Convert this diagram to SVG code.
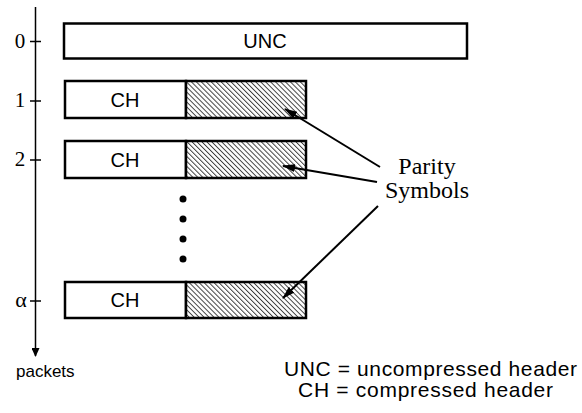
<svg xmlns="http://www.w3.org/2000/svg" width="582" height="413" viewBox="0 0 582 413">
  <style>
    .box { fill: #fff; stroke: #000; stroke-width: 2.5; }
    .hatch { fill: url(#diag); stroke: #000; stroke-width: 2.5; }
    .sans { font-family: "Liberation Sans", Arial, sans-serif; fill: #000; }
    .serif { font-family: "Liberation Serif", "Times New Roman", serif; fill: #000; }
    .line { stroke: #000; stroke-width: 2; fill: none; }
    .axis { stroke: #000; stroke-width: 1.5; fill: none; }
  </style>
  <defs>
    <pattern id="diag" patternUnits="userSpaceOnUse" width="3.5" height="3.5" patternTransform="rotate(-45)">
      <rect width="3.5" height="3.5" fill="#fff"/>
      <line x1="0" y1="0" x2="0" y2="3.5" stroke="#3a3a3a" stroke-width="1.9"/>
    </pattern>
    <marker id="arrow" markerWidth="13" markerHeight="8" refX="12" refY="4" orient="auto" markerUnits="userSpaceOnUse">
      <path d="M0,0 L13,4 L0,8 Z" fill="#000"/>
    </marker>
    <marker id="axisArrow" markerWidth="9" markerHeight="8" refX="8" refY="4" orient="auto" markerUnits="userSpaceOnUse">
      <path d="M0,0 L9,4 L0,8 Z" fill="#000"/>
    </marker>
  </defs>

  <!-- packet axis -->
  <g id="axis">
    <line class="axis" x1="35.5" y1="7" x2="35.5" y2="356" marker-end="url(#axisArrow)"/>
    <line class="axis" x1="30" y1="41.5" x2="41" y2="41.5"/>
    <line class="axis" x1="30" y1="101" x2="41" y2="101"/>
    <line class="axis" x1="30" y1="160" x2="41" y2="160"/>
    <line class="axis" x1="30" y1="301" x2="41" y2="301"/>
    <text class="serif" x="20" y="47.5" font-size="21" text-anchor="middle">0</text>
    <text class="serif" x="20" y="107" font-size="21" text-anchor="middle">1</text>
    <text class="serif" x="20" y="166" font-size="21" text-anchor="middle">2</text>
    <text class="serif" x="21" y="307" font-size="22" text-anchor="middle">α</text>
    <text class="sans" x="16" y="377" font-size="17">packets</text>
  </g>

  <!-- packet 0: uncompressed -->
  <g id="pkt0">
    <rect class="box" x="64" y="23.5" width="403" height="35"/>
    <text class="sans" x="265" y="48" font-size="20" text-anchor="middle">UNC</text>
  </g>

  <!-- packet 1 -->
  <g id="pkt1">
    <rect class="box" x="65" y="81" width="121" height="37"/>
    <rect class="hatch" x="186" y="81" width="120" height="37"/>
    <text class="sans" x="125" y="107" font-size="20" text-anchor="middle">CH</text>
  </g>

  <!-- packet 2 -->
  <g id="pkt2">
    <rect class="box" x="65" y="141" width="121" height="37"/>
    <rect class="hatch" x="186" y="141" width="120" height="37"/>
    <text class="sans" x="125" y="167" font-size="20" text-anchor="middle">CH</text>
  </g>

  <!-- ellipsis -->
  <g id="dots">
    <circle cx="183" cy="199" r="3.5"/>
    <circle cx="183" cy="219" r="3.5"/>
    <circle cx="183" cy="239" r="3.5"/>
    <circle cx="183" cy="259" r="3.5"/>
  </g>

  <!-- packet alpha -->
  <g id="pktA">
    <rect class="box" x="65" y="282" width="121" height="36"/>
    <rect class="hatch" x="186" y="282" width="120" height="36"/>
    <text class="sans" x="125" y="307" font-size="20" text-anchor="middle">CH</text>
  </g>

  <!-- parity label -->
  <g id="parity">
    <text class="serif" x="427" y="174" font-size="24" text-anchor="middle">Parity</text>
    <text class="serif" x="427" y="198" font-size="24" text-anchor="middle">Symbols</text>
  </g>

  <!-- connectors -->
  <g id="connectors">
    <line class="line" x1="380" y1="167" x2="285" y2="109" marker-end="url(#arrow)"/>
    <line class="line" x1="377" y1="182" x2="283" y2="166" marker-end="url(#arrow)"/>
    <line class="line" x1="378" y1="206" x2="283" y2="298" marker-end="url(#arrow)"/>
  </g>

  <!-- legend -->
  <g id="legend">
    <text class="sans" x="284" y="376" font-size="21" textLength="293" lengthAdjust="spacing">UNC = uncompressed header</text>
    <text class="sans" x="298" y="397" font-size="21" textLength="255" lengthAdjust="spacing">CH = compressed header</text>
  </g>
</svg>
